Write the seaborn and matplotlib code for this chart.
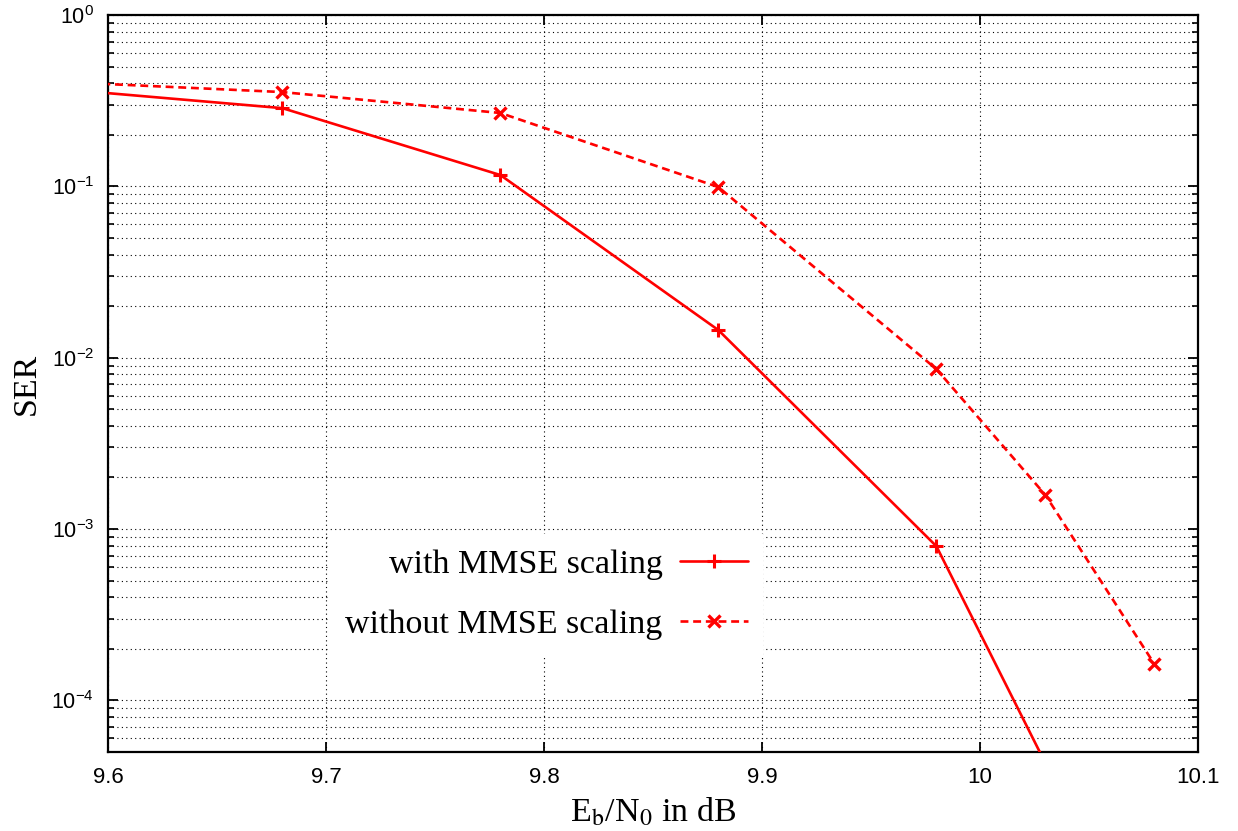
import matplotlib
matplotlib.use("Agg")
import matplotlib.pyplot as plt
import matplotlib.ticker as mticker
import seaborn as sns
import numpy as np

# ---- data ----
ebn0_with = [9.58, 9.68, 9.78, 9.88, 9.98, 10.03]
ser_with = [0.368, 0.286, 0.1164, 0.01449, 7.94e-4, 4.3e-5]
ebn0_without = [9.58, 9.68, 9.78, 9.88, 9.98, 10.03, 10.08]
ser_without = [0.406, 0.355, 0.268, 0.099, 8.58e-3, 1.58e-3, 1.63e-4]
label_with = "with MMSE scaling"
label_without = "without MMSE scaling"
xticks = [9.6, 9.7, 9.8, 9.9, 10.0, 10.1]

sns.set_theme(style="ticks")
plt.rcParams["font.family"] = ["Liberation Sans", "DejaVu Sans"]
plt.rcParams["mathtext.fontset"] = "custom"
plt.rcParams["mathtext.rm"] = "Liberation Sans"
plt.rcParams["mathtext.it"] = "Liberation Sans:italic"
plt.rcParams["mathtext.bf"] = "Liberation Sans:bold"
for k in ["text.color", "axes.labelcolor", "xtick.color", "ytick.color",
          "xtick.labelcolor", "ytick.labelcolor"]:
    plt.rcParams[k] = "black"

fig = plt.figure(figsize=(12.38, 8.31), dpi=100)
ax = fig.add_axes([108 / 1238, 1 - 752 / 831, 1090 / 1238, 737 / 831])

red = "#ff0000"
sns.lineplot(x=ebn0_with, y=ser_with, ax=ax, color=red, linewidth=1.9,
             linestyle="-", marker="+", markersize=10, markeredgewidth=2.2,
             markeredgecolor=red, markerfacecolor=red, label=label_with,
             zorder=3)
sns.lineplot(x=ebn0_without, y=ser_without, ax=ax, color=red, linewidth=1.9,
             linestyle=(0, (3.0, 1.8)), marker="x", markersize=8,
             markeredgewidth=2.4, markeredgecolor=red, markerfacecolor=red,
             label=label_without, zorder=3)

ax.set_yscale("log")
ax.set_xlim(9.6, 10.1)
ax.set_ylim(5e-5, 1)
ax.set_xticks(xticks)
ax.xaxis.set_major_formatter(mticker.FormatStrFormatter("%g"))
ax.yaxis.set_major_locator(mticker.LogLocator(base=10, numticks=10))
ax.yaxis.set_minor_locator(mticker.LogLocator(base=10, subs=np.arange(2, 10), numticks=100))
ax.yaxis.set_minor_formatter(mticker.NullFormatter())

ax.grid(True, which="major", axis="both", color="black", linewidth=0.8,
        linestyle=(0, (1, 3)))
ax.grid(True, which="minor", axis="y", color="black", linewidth=0.8,
        linestyle=(0, (1, 3)))
ax.set_axisbelow(True)

for s in ax.spines.values():
    s.set_visible(True)
    s.set_color("black")
    s.set_linewidth(1.6)

ax.tick_params(which="both", direction="in", top=True, right=True, color="black",
               labelcolor="black")
ax.tick_params(which="major", length=7, width=1.3)
ax.tick_params(which="minor", length=4, width=1.2)
ax.tick_params(axis="x", which="major", labelsize=16, pad=11)
ax.tick_params(axis="y", which="major", labelsize=15.5, pad=10)

ax.set_ylabel("SER", family="Liberation Serif", fontsize=24.5, labelpad=7,
              color="black")
ax.set_xlabel(r"E$_\mathrm{b}$/N$_0$ in dB", family="Liberation Serif",
              fontsize=24.5, math_fontfamily="stix", color="black")
ax.xaxis.label.set_va("baseline")
ax.xaxis.set_label_coords(0.5, -(822 - 752) / 737)

handles, labels = ax.get_legend_handles_labels()
leg = ax.legend(handles, labels, loc="center right",
                bbox_to_anchor=(0.6166, 0.2137), markerfirst=False,
                prop={"family": "Liberation Serif", "size": 24.5},
                handlelength=2.0, handletextpad=0.5, labelspacing=0.85,
                borderpad=0.45, frameon=True, fancybox=False, numpoints=1)
leg.get_frame().set_facecolor("white")
leg.get_frame().set_edgecolor("none")
leg.get_frame().set_alpha(1.0)
for t in leg.get_texts():
    t.set_color("black")

fig.savefig("out.png", dpi=100)
